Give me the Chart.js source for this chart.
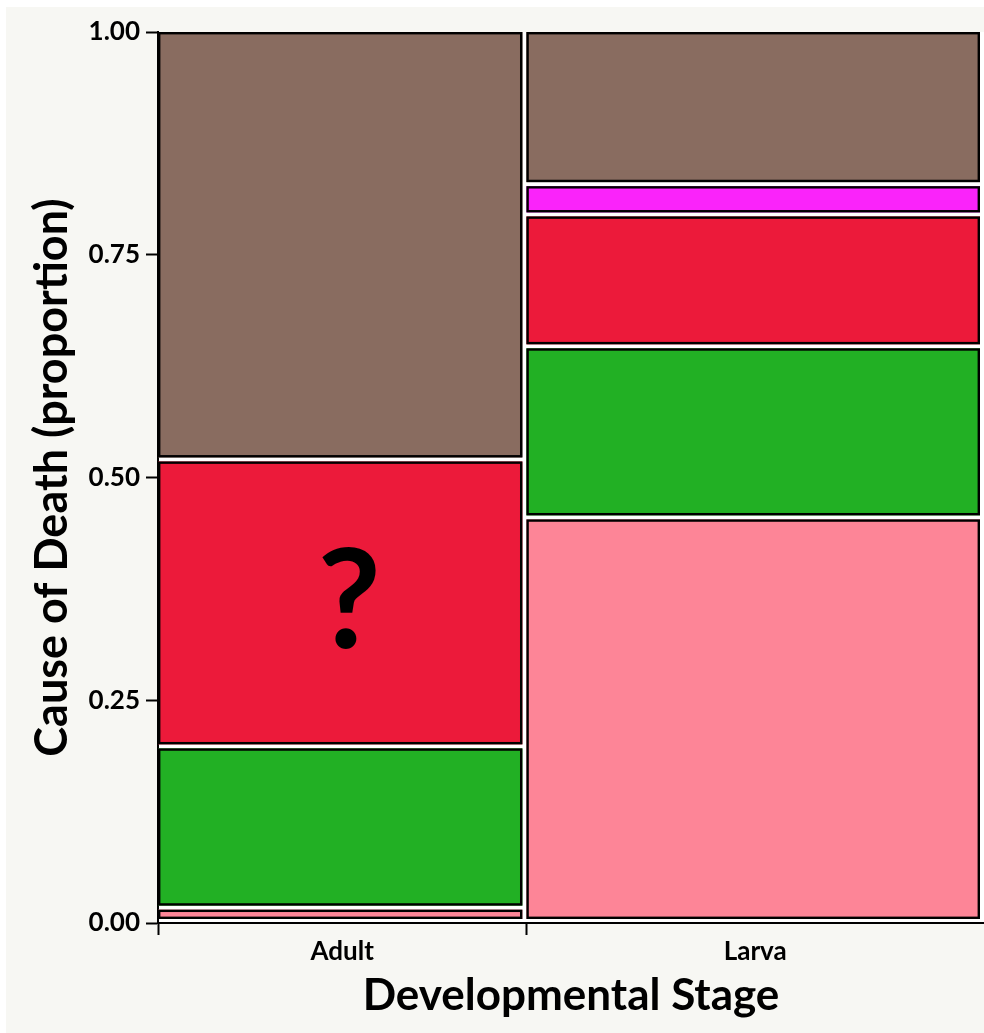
<!DOCTYPE html>
<html>
<head>
<meta charset="utf-8">
<script src="https://cdn.jsdelivr.net/npm/chart.js@4"></script>
<style>
  html, body { margin: 0; padding: 0; background: #ffffff; }
  #wrap { width: 984px; height: 1033px; }
</style>
</head>
<body>
<div id="wrap"><canvas id="mosaico" width="984" height="1033"></canvas></div>
<script>
/* ============================
   DATOS DEL GRÁFICO
   ============================ */
const etapas = ["Adult", "Larva"];
const anchoEtapa = [0.446, 0.554];           // proporción de cada etapa (eje X)

const causas = ["pink", "green", "red", "magenta", "brown"];  // de abajo a arriba
const coloresCausa = ["#fd8597", "#22b024", "#ec1a3a", "#fa23fa", "#896c60"];

// proporción de cada causa dentro de la etapa (de abajo a arriba)
const propAdult = [0.015, 0.181, 0.322, 0.000, 0.482];
const propLarva = [0.453, 0.192, 0.148, 0.034, 0.173];

const ticksY = [0, 0.25, 0.5, 0.75, 1];
const marcaPregunta = "?";                   // texto sobre Adult / red

const GAP = 4;   // hueco blanco entre teselas

/* ============================
   PLUGIN: fondo + teselas
   ============================ */
const fondo = {
  id: "fondo",
  beforeDraw(chart) {
    const ctx = chart.ctx;
    ctx.save();
    ctx.fillStyle = "#ffffff";
    ctx.fillRect(0, 0, chart.width, chart.height);
    ctx.fillStyle = "#f7f7f3";
    ctx.fillRect(6, 7, chart.width - 6, chart.height - 7);
    const a = chart.chartArea;
    ctx.fillStyle = "#ffffff";
    ctx.fillRect(a.left, a.top, a.right - a.left, a.bottom - a.top);
    ctx.restore();
  }
};

const teselas = {
  id: "teselas",
  afterDatasetsDraw(chart) {
    const ctx = chart.ctx;
    const sx = chart.scales.x;
    const sy = chart.scales.y;
    const props = [propAdult, propLarva];
    ctx.save();
    let x0 = 0;
    etapas.forEach((etapa, i) => {
      const x1 = x0 + anchoEtapa[i];
      const left = sx.getPixelForValue(x0);
      const right = sx.getPixelForValue(x1) - GAP;
      let y0 = 0;
      props[i].forEach((p, j) => {
        const y1 = y0 + p;
        if (p > 0) {
          const top = sy.getPixelForValue(y1);
          const bottom = sy.getPixelForValue(y0) - GAP;
          ctx.fillStyle = coloresCausa[j];
          ctx.fillRect(left, top, right - left, bottom - top);
          ctx.strokeStyle = "#000000";
          ctx.lineWidth = 2.4;
          ctx.strokeRect(left + 1.2, top + 1.2, right - left - 2.4, bottom - top - 2.4);

          // la interrogación sobre Adult / red
          if (etapa === "Adult" && causas[j] === "red") {
            ctx.fillStyle = "#000000";
            ctx.font = "bold 138px Lato";
            ctx.textAlign = "center";
            ctx.textBaseline = "middle";
            ctx.fillText(marcaPregunta, (left + right) / 2 + 9, (top + bottom) / 2 + 1);
          }
        }
        y0 = y1;
      });
      x0 = x1;
    });
    ctx.restore();
  }
};

// posiciones de las marcas del eje X: límites (con raya) y centros (con texto)
function ticksX() {
  const t = [];
  let x0 = 0;
  etapas.forEach((e, i) => {
    t.push({ value: x0, label: "", raya: true });
    t.push({ value: x0 + anchoEtapa[i] / 2, label: e, raya: false });
    x0 += anchoEtapa[i];
  });
  return t;
}

/* ============================
   CHART
   ============================ */
const ctx = document.getElementById("mosaico").getContext("2d");
new Chart(ctx, {
  type: "scatter",
  data: { datasets: [{ data: [] }] },
  plugins: [fondo, teselas],
  options: {
    responsive: false,
    animation: false,
    layout: { padding: { top: 32, right: 0, left: 0, bottom: 0 } },
    plugins: { legend: { display: false }, tooltip: { enabled: false } },
    scales: {
      x: {
        type: "linear", min: 0, max: 1,
        afterBuildTicks: s => { s.ticks = ticksX().map(t => ({ value: t.value })); },
        afterFit: s => { s.height = 110; },
        ticks: {
          autoSkip: false, maxRotation: 0,
          callback: (v, i) => ticksX()[i].label,
          color: "#000", padding: 1,
          font: { family: "Lato", weight: "bold", size: 26 }
        },
        grid: {
          drawOnChartArea: false, drawTicks: true, tickLength: 12, tickWidth: 2,
          tickColor: c => (ticksX()[c.index] && ticksX()[c.index].raya) ? "#000" : "rgba(0,0,0,0)"
        },
        border: { display: true, color: "#000", width: 2 },
        title: {
          display: true, text: "Developmental Stage", color: "#000",
          font: { family: "Lato", weight: "bold", size: 44 },
          padding: { top: 0, bottom: 11 }
        }
      },
      y: {
        type: "linear", min: 0, max: 1,
        afterBuildTicks: s => { s.ticks = ticksY.map(v => ({ value: v })); },
        afterFit: s => { s.width = 158; },
        ticks: {
          callback: v => v.toFixed(2),
          color: "#000", padding: 6,
          font: { family: "Lato", weight: "bold", size: 26 }
        },
        grid: { drawOnChartArea: false, drawTicks: true, tickLength: 12, tickWidth: 2, tickColor: "#000" },
        border: { display: true, color: "#000", width: 2 },
        title: {
          display: true, text: "Cause of Death (proportion)", color: "#000",
          font: { family: "Lato", weight: "bold", size: 45 },
          padding: { top: 25, bottom: 0 }
        }
      }
    }
  }
});
</script>
</body>
</html>
